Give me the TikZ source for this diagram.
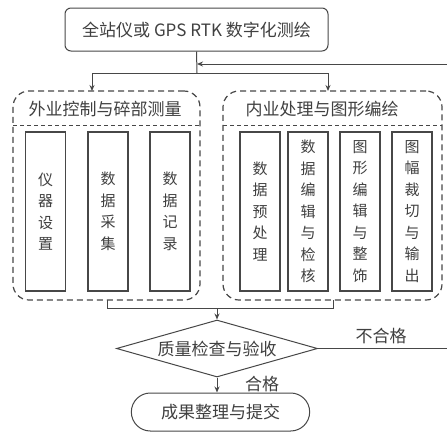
\documentclass[tikz,border=0pt]{standalone}
\usepackage{fontspec}
\newfontfamily\cjk{Noto Sans CJK SC}
\usetikzlibrary{shapes.geometric,shapes.misc,arrows.meta}
\begin{document}
\begin{tikzpicture}[x=1pt,y=-1pt,
  line/.style={draw=black!72,line width=1pt},
  arr/.style={line,-{Stealth[length=6pt,width=5pt]}},
  bigtext/.style={font=\cjk\fontsize{17}{20}\selectfont,text=black!75},
  coltext/.style={font=\cjk\fontsize{15}{21.5}\selectfont,text=black!75,align=center,inner sep=0pt},
  startbox/.style={line,rounded corners=6pt,minimum width=263pt,minimum height=43pt,bigtext},
  groupbox/.style={draw=black!72,line width=1.2pt,dash pattern=on 6pt off 4pt,rounded corners=16pt},
  sepline/.style={draw=black!72,line width=1pt,dash pattern=on 4pt off 3pt},
  innerbox/.style={draw=black!72,line width=1.4pt,minimum width=40pt,minimum height=159pt,inner sep=0pt},
  check/.style={line,diamond,aspect=3.5,inner sep=0pt,minimum width=201pt,minimum height=57pt,bigtext},
  endbox/.style={line,rounded rectangle,minimum width=185pt,minimum height=38pt,bigtext}
]
\useasboundingbox[fill=white] (0,0) rectangle (447,432);

% start
\node[startbox] (start) at (196.5,29.5) {全站仪或 GPS RTK 数字化测绘};

% group boxes
\node[groupbox,minimum width=187pt,minimum height=209pt] (gL) at (106.5,195.5) {};
\node[groupbox,minimum width=219pt,minimum height=209pt] (gR) at (332.5,195.5) {};
\coordinate (sL1) at (13,125); \coordinate (sL2) at (200,125);
\coordinate (sR1) at (223,125); \coordinate (sR2) at (442,125);
\draw[sepline] (sL1) -- (sL2);
\draw[sepline] (sR1) -- (sR2);
\node[bigtext] (tL) at (105,109) {外业控制与碎部测量};
\node[bigtext] (tR) at (322,109) {内业处理与图形编绘};

% inner boxes
\node[innerbox] (a1) at (45.5,211.5) {};
\node[innerbox] (a2) at (108,211.5) {};
\node[innerbox] (a3) at (170,211.5) {};
\node[coltext] (a1t) at (a1.center) {仪\\器\\设\\置};
\node[coltext] (a2t) at (a2.center) {数\\据\\采\\集};
\node[coltext] (a3t) at (a3.center) {数\\据\\记\\录};

\node[innerbox] (b1) at (260,211.5) {};
\node[innerbox] (b2) at (308,211.5) {};
\node[innerbox] (b3) at (360,211.5) {};
\node[innerbox] (b4) at (412,211.5) {};
\node[coltext] (b1t) at (b1.center) {数\\据\\预\\处\\理};
\node[coltext] (b2t) at (b2.center) {数\\据\\编\\辑\\与\\检\\核};
\node[coltext] (b3t) at (b3.center) {图\\形\\编\\辑\\与\\整\\饰};
\node[coltext] (b4t) at (b4.center) {图\\幅\\裁\\切\\与\\输\\出};

% check and end
\node[check] (chk) at (217,348.5) {质量检查与验收};
\node[endbox] (fin) at (220.5,412) {成果整理与提交};

% top branching
\coordinate (j1) at (197,73);
\coordinate (jfb) at (197,64);
\coordinate (bL) at (92,73);
\coordinate (bR) at (328,73);
\coordinate (gLt) at (92,91);
\coordinate (gRt) at (328,91);
\draw[line] (start.south) -- (j1);
\draw[line] (bL) -- (bR);
\draw[arr] (bL) -- (gLt);
\draw[arr] (bR) -- (gRt);

% bottom merge
\coordinate (mL) at (107,300);
\coordinate (mR) at (333,300);
\coordinate (mL2) at (107,308);
\coordinate (mR2) at (333,308);
\coordinate (mC) at (217,308);
\draw[line] (mL) -- (mL2) -- (mR2) -- (mR);
\draw[arr] (mC) -- (chk.north);

% pass
\draw[arr] (chk.south) -- (chk.south |- fin.north);
\node[bigtext] (pass) at (262,384) {合格};

% fail loop
\coordinate (fR) at (452,348.5);
\coordinate (fT) at (452,64);
\draw[arr] (chk.east) -- (fR) -- (fT) -- (jfb);
\node[bigtext] (fail) at (381,336) {不合格};
\end{tikzpicture}
\end{document}
